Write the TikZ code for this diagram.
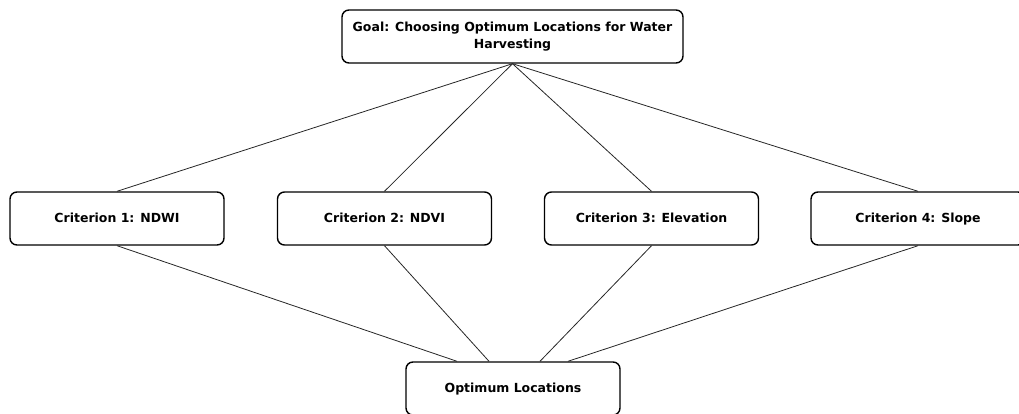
\documentclass[tikz,border=0pt]{standalone}
\usepackage{fontspec}
\setmainfont{DejaVu Sans}
\begin{document}
\begin{tikzpicture}[x=1pt,y=-1pt,
  box/.style={draw=black, line width=1.4pt, rounded corners=7pt, fill=white,
    font=\bfseries\fontsize{12.5}{16.5}\selectfont, align=center, inner sep=0pt,
    minimum height=53pt},
  crit/.style={box, minimum width=214pt, text height=9.5pt, text depth=2.5pt},
  link/.style={draw=black!85, line width=0.8pt}]
\clip (0,0) rectangle (1019,414);
\node[box, minimum width=341pt] (goal) at (512.5,36.5) {Goal: Choosing Optimum Locations for Water\\Harvesting};
\node[crit] (c1) at (117,218.5) {Criterion 1: NDWI};
\node[crit] (c2) at (384.5,218.5) {Criterion 2: NDVI};
\node[crit] (c3) at (651.5,218.5) {Criterion 3: Elevation};
\node[crit] (c4) at (918,218.5) {Criterion 4: Slope};
\node[crit] (opt) at (513,388.5) {Optimum Locations};
\coordinate (e1) at ([xshift=-56pt]opt.north);
\coordinate (e2) at ([xshift=-24pt]opt.north);
\coordinate (e3) at ([xshift=27pt]opt.north);
\coordinate (e4) at ([xshift=55pt]opt.north);
\foreach \c in {c1,c2,c3,c4} \draw[link] (goal.south) -- (\c.north);
\draw[link] (c1.south) -- (e1);
\draw[link] (c2.south) -- (e2);
\draw[link] (c3.south) -- (e3);
\draw[link] (c4.south) -- (e4);
\end{tikzpicture}
\end{document}
